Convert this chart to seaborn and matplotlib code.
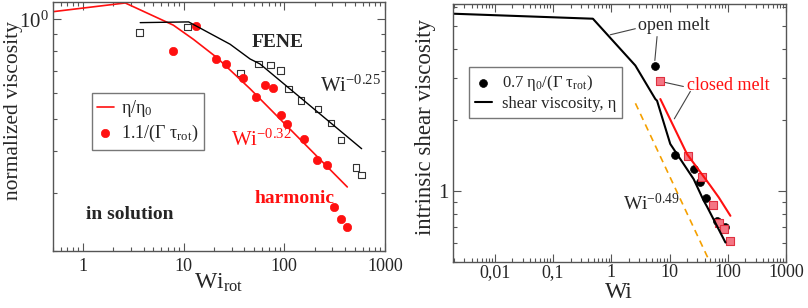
import matplotlib
matplotlib.use("Agg")
import matplotlib.pyplot as plt
import matplotlib.ticker as mticker
import seaborn as sns

# ---------------- data: left panel (in solution) ----------------
harm_line_x = [0.5, 2.63, 7.9, 12.5, 21.3, 45.7, 422]
harm_line_y = [1.054, 1.12, 0.96, 0.87, 0.767, 0.617, 0.312]

fene_line_x = [3.7, 11.2, 28.9, 45.7, 57.4, 586]
fene_line_y = [0.977, 0.982, 0.841, 0.759, 0.733, 0.407]

fene_sq_x = [3.64, 10.9, 36.9, 55.2, 73.3, 92, 110, 146, 217, 290, 365, 514, 586]
fene_sq_y = [0.912, 0.948, 0.689, 0.733, 0.728, 0.700, 0.617, 0.569, 0.537, 0.486, 0.433, 0.357, 0.339]

harm_pt_x = [7.8, 13.2, 21.0, 26.4, 39.2, 52.4, 64.4, 77.8, 92, 106, 157, 210, 264, 311, 363, 422]
harm_pt_y = [0.80, 0.957, 0.759, 0.733, 0.665, 0.582, 0.635, 0.619, 0.516, 0.484, 0.436, 0.376, 0.363, 0.272, 0.25, 0.237]

# ---------------- data: right panel (melts) ----------------
open_line_x = [0.0019, 0.484, 2.59, 5.71, 6.11, 10.3, 26, 38.7, 44.2, 91.3]
open_line_y = [5.64, 5.37, 3.40, 2.45, 2.41, 1.58, 1.12, 0.907, 0.855, 0.603]

closed_line_x = [6.96, 20, 50.4, 70.1, 111]
closed_line_y = [2.45, 1.43, 1.05, 0.937, 0.783]

open_pt_x = [5.56, 12.6, 26, 33, 41.9, 65.7, 91.3]
open_pt_y = [3.37, 1.42, 1.236, 1.085, 0.931, 0.746, 0.703]

closed_pt_x = [6.96, 20.8, 36.3, 56.1, 70.1, 85.3, 108]
closed_pt_y = [2.93, 1.408, 1.139, 0.872, 0.733, 0.687, 0.613]

power_x = [2.6, 55]
power_y = [2.35, 0.47]

left_xticks = [1, 10, 100, 1000]
left_xticklabels = ["1", "10", "100", "1000"]
right_xticks = [0.01, 0.1, 1, 10, 100, 1000]
right_xticklabels = ["0,01", "0,1", "1", "10", "100", "1000"]

# ---------------- style ----------------
sns.set_style("ticks")
plt.rcParams["font.family"] = ["Liberation Serif", "DejaVu Serif"]
plt.rcParams["mathtext.fontset"] = "custom"
plt.rcParams["mathtext.rm"] = "Liberation Serif"
plt.rcParams["mathtext.it"] = "Liberation Serif:italic"
plt.rcParams["mathtext.bf"] = "Liberation Serif:bold"

RED = "#ff1010"
FRAME = "#555555"

fig = plt.figure(figsize=(8.08, 3.08), dpi=100)
axL = fig.add_axes([0.0652, 0.1851, 0.4113, 0.8094])
axR = fig.add_axes([0.5603, 0.1503, 0.4125, 0.8367])

def style_axes(ax):
    ax.set_xscale("log")
    ax.set_yscale("log")
    for s in ax.spines.values():
        s.set_color(FRAME)
        s.set_linewidth(1.0)
    ax.tick_params(which="both", direction="in", top=True, right=True,
                   color=FRAME, width=0.8)
    ax.tick_params(which="major", length=6)
    ax.tick_params(which="minor", length=3)

# ---------------- left panel ----------------
style_axes(axL)
sns.lineplot(x=harm_line_x, y=harm_line_y, ax=axL, color=RED, lw=1.2,
             sort=False, estimator=None, label="η/η$_0$")
sns.lineplot(x=fene_line_x, y=fene_line_y, ax=axL, color="black", lw=1.0,
             sort=False, estimator=None)
sns.scatterplot(x=fene_sq_x, y=fene_sq_y, ax=axL, marker="s", s=22,
                facecolor="none", edgecolor="#333333", linewidth=0.8)
sns.scatterplot(x=harm_pt_x, y=harm_pt_y, ax=axL, marker="o", s=36,
                color=RED, edgecolor=RED, linewidth=0.5,
                label="1.1/(Γ τ$_{\\rm rot}$)")
axL.set_xlim(0.5, 1000)
axL.set_ylim(0.2, 1.13)
axL.xaxis.set_major_locator(mticker.FixedLocator(left_xticks))
axL.xaxis.set_major_formatter(mticker.FixedFormatter(left_xticklabels))
axL.xaxis.set_minor_locator(mticker.LogLocator(base=10, subs=range(2, 10), numticks=20))
axL.xaxis.set_minor_formatter(mticker.NullFormatter())
axL.yaxis.set_major_locator(mticker.FixedLocator([1.0]))
axL.yaxis.set_major_formatter(mticker.FixedFormatter(["$10^0$"]))
axL.yaxis.set_minor_locator(mticker.LogLocator(base=10, subs=range(2, 10), numticks=20))
axL.yaxis.set_minor_formatter(mticker.NullFormatter())
axL.tick_params(axis="x", labelsize=13, pad=5)
axL.tick_params(axis="y", labelsize=15, pad=3)
axL.set_xlabel("Wi$_{\\rm rot}$", fontsize=17)
axL.set_ylabel("normalized viscosity", fontsize=15.5)
axL.xaxis.set_label_coords(0.5, -0.085)
axL.yaxis.set_label_coords(-0.088, 0.565)

h, l = axL.get_legend_handles_labels()
legL = axL.legend(h, l, loc="upper left", bbox_to_anchor=(0.118, 0.634),
                  borderaxespad=0, fontsize=13, frameon=True, fancybox=False,
                  handlelength=0.9, handletextpad=0.4, labelspacing=0.2,
                  borderpad=0.3)
legL.get_frame().set_edgecolor(FRAME)
legL.get_frame().set_linewidth(1.0)

axL.text(0.678, 0.838, "FENE", transform=axL.transAxes, fontsize=14,
         fontweight="bold", ha="center", va="center")
axL.text(0.804, 0.638, "Wi$^{-0.25}$", transform=axL.transAxes, fontsize=15,
         ha="left", va="baseline")
axL.text(0.537, 0.421, "Wi$^{-0.32}$", transform=axL.transAxes, fontsize=15,
         ha="left", va="baseline", color=RED)
axL.text(0.728, 0.193, "harmonic", transform=axL.transAxes, fontsize=14,
         fontweight="bold", ha="center", va="baseline", color=RED)
axL.text(0.2326, 0.128, "in solution", transform=axL.transAxes, fontsize=14,
         fontweight="bold", ha="center", va="baseline")

# ---------------- right panel ----------------
style_axes(axR)
sns.lineplot(x=open_line_x, y=open_line_y, ax=axR, color="black", lw=1.5,
             sort=False, estimator=None, label="shear viscosity, η")
sns.lineplot(x=closed_line_x, y=closed_line_y, ax=axR, color=RED, lw=1.5,
             sort=False, estimator=None)
sns.lineplot(x=power_x, y=power_y, ax=axR, color="#f5a000", lw=1.2,
             linestyle=(0, (4, 3)), sort=False, estimator=None)
sns.scatterplot(x=open_pt_x, y=open_pt_y, ax=axR, marker="o", s=32,
                color="black", edgecolor="black", linewidth=0.5,
                label="0.7 η$_0$/(Γ τ$_{\\rm rot}$)")
sns.scatterplot(x=closed_pt_x, y=closed_pt_y, ax=axR, marker="s", s=26,
                color="#f47684", edgecolor="#e03040", linewidth=0.8)
axR.set_xlim(0.0019, 1000)
axR.set_ylim(0.5, 6.2)
axR.xaxis.set_major_locator(mticker.FixedLocator(right_xticks))
axR.xaxis.set_major_formatter(mticker.FixedFormatter(right_xticklabels))
axR.xaxis.set_minor_locator(mticker.LogLocator(base=10, subs=range(2, 10), numticks=20))
axR.xaxis.set_minor_formatter(mticker.NullFormatter())
axR.yaxis.set_major_locator(mticker.FixedLocator([1.0]))
axR.yaxis.set_major_formatter(mticker.FixedFormatter(["1"]))
axR.yaxis.set_minor_locator(mticker.LogLocator(base=10, subs=range(2, 10), numticks=20))
axR.yaxis.set_minor_formatter(mticker.NullFormatter())
axR.tick_params(axis="x", labelsize=13, pad=1.5)
axR.tick_params(axis="y", labelsize=15, pad=3)
axR.set_xlabel("Wi", fontsize=17)
axR.set_ylabel("intrinsic shear viscosity", fontsize=16.5)
axR.xaxis.set_label_coords(0.5, -0.078)
axR.yaxis.set_label_coords(-0.05, 0.523)

h, l = axR.get_legend_handles_labels()
order = [l.index("0.7 η$_0$/(Γ τ$_{\\rm rot}$)"), l.index("shear viscosity, η")]
legR = axR.legend([h[i] for i in order], [l[i] for i in order],
                  loc="upper left", bbox_to_anchor=(0.049, 0.755),
                  borderaxespad=0, fontsize=12, frameon=True, fancybox=False,
                  handlelength=1.0, handletextpad=0.6, labelspacing=0.2,
                  borderpad=0.35)
legR.get_frame().set_edgecolor(FRAME)
legR.get_frame().set_linewidth(1.0)

axR.text(0.664, 0.899, "open melt", transform=axR.transAxes, fontsize=13,
         ha="center", va="baseline")
axR.text(0.826, 0.666, "closed melt", transform=axR.transAxes, fontsize=13,
         ha="center", va="baseline", color=RED)
axR.text(0.510, 0.2006, "Wi$^{-0.49}$", transform=axR.transAxes, fontsize=14,
         ha="left", va="baseline")

lead = dict(arrowstyle="-", color="#444444", lw=0.8, shrinkA=0, shrinkB=0)
axR.annotate("", xy=(0.961, 4.59), xytext=(2.59, 4.87), arrowprops=lead)
axR.annotate("", xy=(5.6, 3.57), xytext=(6.11, 4.51), arrowprops=lead)
axR.annotate("", xy=(8.49, 2.88), xytext=(17.3, 2.77), arrowprops=lead)
axR.annotate("", xy=(12.1, 2.02), xytext=(22.8, 2.64), arrowprops=lead)

fig.savefig("out.png", dpi=100)
